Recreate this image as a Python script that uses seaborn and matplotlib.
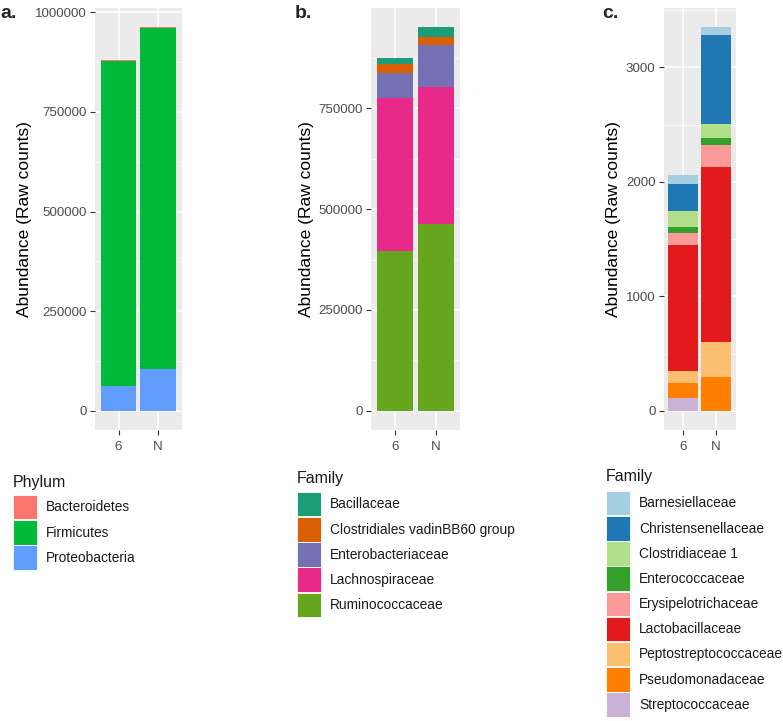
import numpy as np
import pandas as pd
import matplotlib
matplotlib.use('Agg')
import matplotlib.pyplot as plt
from matplotlib.patches import Patch
import seaborn as sns

# Samples on the x axis
samples = ['6', 'N']

# Panel a: phylum level raw counts (first level is drawn on top)
phyla = ['Bacteroidetes', 'Firmicutes', 'Proteobacteria']
phylum_6 = [3000, 815000, 63300]
phylum_N = [3000, 854500, 105000]
phylum_colors = ['#F8766D', '#00BA38', '#619CFF']

# Panel b: major families
fam_major = ['Bacillaceae', 'Clostridiales vadinBB60 group', 'Enterobacteriaceae',
             'Lachnospiraceae', 'Ruminococcaceae']
major_6 = [13300, 22300, 63300, 379400, 395600]
major_N = [24700, 19800, 104600, 338100, 464100]
major_colors = ['#1B9E77', '#D95F02', '#7570B3', '#E7298A', '#66A61E']

# Panel c: minor families
fam_minor = ['Barnesiellaceae', 'Christensenellaceae', 'Clostridiaceae 1',
             'Enterococcaceae', 'Erysipelotrichaceae', 'Lactobacillaceae',
             'Peptostreptococcaceae', 'Pseudomonadaceae', 'Streptococcaceae']
minor_6 = [78, 233, 142, 52, 105, 1102, 101, 137, 109]
minor_N = [65, 781, 122, 61, 195, 1529, 306, 291, 0]
minor_colors = ['#A6CEE3', '#1F78B4', '#B2DF8A', '#33A02C', '#FB9A99',
                '#E31A1C', '#FDBF6F', '#FF7F00', '#CAB2D6']

a_ticks = [0, 250000, 500000, 750000, 1000000]
b_ticks = [0, 250000, 500000, 750000]
c_ticks = [0, 1000, 2000, 3000]

sns.set_style('darkgrid', {'axes.facecolor': '#EBEBEB', 'grid.color': 'white'})
plt.rcParams['font.family'] = ['Liberation Sans', 'DejaVu Sans']

W, H = 783, 721
fig = plt.figure(figsize=(W / 100, H / 100), dpi=100)


def px_axes(left, right, top, bottom):
    return fig.add_axes([left / W, 1 - bottom / H, (right - left) / W, (bottom - top) / H])


def stacked(ax, levels, v6, vN, colors, ticks, label_x_px, left_px, width_px):
    df = pd.DataFrame({
        'Sample': np.repeat(samples, len(levels)),
        'Taxon': levels * 2,
        'Count': list(v6) + list(vN),
    })
    sns.histplot(data=df, x='Sample', weights='Count', hue='Taxon', hue_order=levels,
                 palette=colors, multiple='stack', discrete=True, shrink=0.9,
                 alpha=1, linewidth=0, edgecolor='none', legend=False, ax=ax)
    top = df.groupby('Sample')['Count'].sum().max()
    ax.set_ylim(-0.05 * top, 1.05 * top)
    ax.set_xlim(-0.6, 1.6)
    ax.set_xticks([0, 1], samples)
    ax.set_yticks(ticks, [str(t) for t in ticks])
    minor = [t + (ticks[1] - ticks[0]) / 2 for t in ticks]
    ax.set_yticks([m for m in minor if m < 1.05 * top], minor=True)
    ax.grid(True, which='major', color='white', lw=1.1)
    ax.grid(True, which='minor', axis='y', color='white', lw=0.5)
    ax.set_axisbelow(True)
    ax.tick_params(which='major', length=3.8, width=0.8, color='#333333',
                   labelsize=9.6, labelcolor='#4D4D4D', pad=2, left=True, bottom=True)
    ax.tick_params(axis='x', pad=4)
    ax.tick_params(which='minor', length=0)
    for s in ax.spines.values():
        s.set_visible(False)
    ax.set_xlabel('')
    ax.set_ylabel('Abundance (Raw counts)', fontsize=12.5, color='black')
    ax.yaxis.set_label_coords((label_x_px - left_px) / width_px, 0.5)


ax_a = px_axes(95, 181.5, 8, 430)
stacked(ax_a, phyla, phylum_6, phylum_N, phylum_colors, a_ticks, 32, 95, 86.5)
ax_b = px_axes(371, 460, 8, 430)
stacked(ax_b, fam_major, major_6, major_N, major_colors, b_ticks, 314, 371, 89)
ax_c = px_axes(663.5, 736, 8, 430)
stacked(ax_c, fam_minor, minor_6, minor_N, minor_colors, c_ticks, 621, 663.5, 72.5)

for letter, x in [('a.', 0), ('b.', 295), ('c.', 602)]:
    fig.text(x / W, 1 - 13 / H, letter, fontsize=14, fontweight='bold', va='center', ha='left')


def add_legend(title, levels, colors, x_px, title_y, keys_y):
    fig.text(x_px / W, 1 - title_y / H, title, fontsize=11.5, va='center', ha='left',
             color='#1A1A1A')
    handles = [Patch(facecolor=c, edgecolor='white', lw=0.6, label=l) for l, c in zip(levels, colors)]
    leg = fig.legend(handles=handles, loc='upper left',
                     bbox_to_anchor=(x_px / W, 1 - keys_y / H), frameon=False,
                     fontsize=9.9, borderpad=0, borderaxespad=0,
                     handlelength=1.75, handleheight=2.36, labelspacing=0.05,
                     handletextpad=0.65)
    for t in leg.get_texts():
        t.set_color('#1A1A1A')
    return leg


add_legend('Phylum', phyla, phylum_colors, 13, 482, 495)
add_legend('Family', fam_major, major_colors, 297, 479, 492)
add_legend('Family', fam_minor, minor_colors, 606, 477, 491)

fig.savefig('out.png', dpi=100)
